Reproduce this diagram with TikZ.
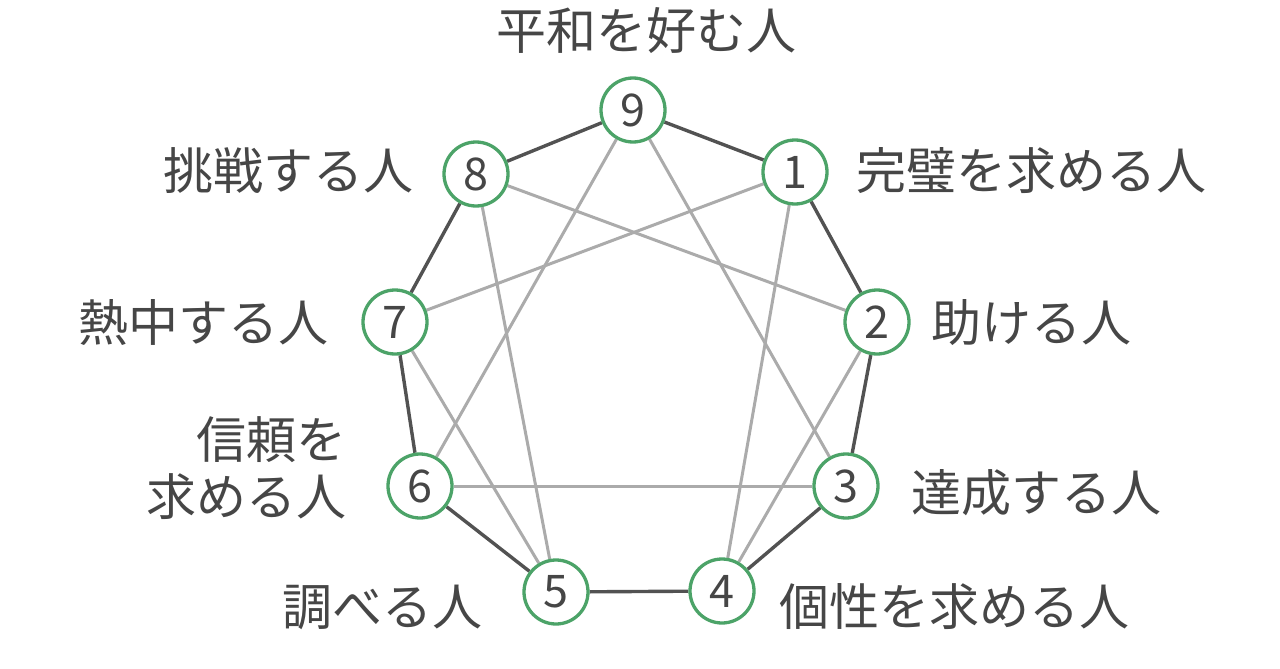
\documentclass[tikz,border=0pt]{standalone}
\usepackage{fontspec}
\setmainfont{Noto Sans CJK JP}
\usetikzlibrary{backgrounds}
\definecolor{ringgreen}{RGB}{76,163,104}
\definecolor{textgray}{RGB}{70,70,70}
\tikzset{
  ring/.style={circle,draw=ringgreen,line width=3.3pt,fill=white,minimum size=64pt,inner sep=0pt,text=textgray,font=\fontsize{45}{45}\selectfont},
  lbl/.style={inner sep=0pt,text=textgray,font=\fontsize{50}{57}\selectfont},
  rim/.style={draw=black!68,line width=3.4pt},
  chord/.style={draw=black!33,line width=3pt}
}
\begin{document}
\begin{tikzpicture}[x=1pt,y=-1pt]
\useasboundingbox (0,0) rectangle (1280,669);
\foreach \n/\x/\y in {9/633/110,1/795/172,2/877/322,3/846/486,4/722/591,5/556/592,6/420/486,7/395/322,8/476/174}
  \node[ring] (p\n) at (\x,\y) {\n};
\begin{scope}[on background layer]
\foreach \a/\b in {9/1,1/2,2/3,3/4,4/5,5/6,6/7,7/8,8/9}
  \draw[rim] (p\a) -- (p\b);
\foreach \a/\b in {1/4,4/2,2/8,8/5,5/7,7/1,9/3,3/6,6/9}
  \draw[chord] (p\a) -- (p\b);
\end{scope}
\node[lbl] (t9) at (646,31) {平和を好む人};
\node[lbl,anchor=west] (t1) at (856,171) {完璧を求める人};
\node[lbl,anchor=west] (t2) at (931,323) {助ける人};
\node[lbl,anchor=west] (t3) at (911,493) {達成する人};
\node[lbl,anchor=west] (t4) at (779,607) {個性を求める人};
\node[lbl,anchor=east] (t5) at (483,607) {調べる人};
\node[lbl,anchor=east,align=right] (t6) at (347,468) {信頼を\\求める人};
\node[lbl,anchor=east] (t7) at (329,323) {熱中する人};
\node[lbl,anchor=east] (t8) at (414,171) {挑戦する人};
\end{tikzpicture}
\end{document}
